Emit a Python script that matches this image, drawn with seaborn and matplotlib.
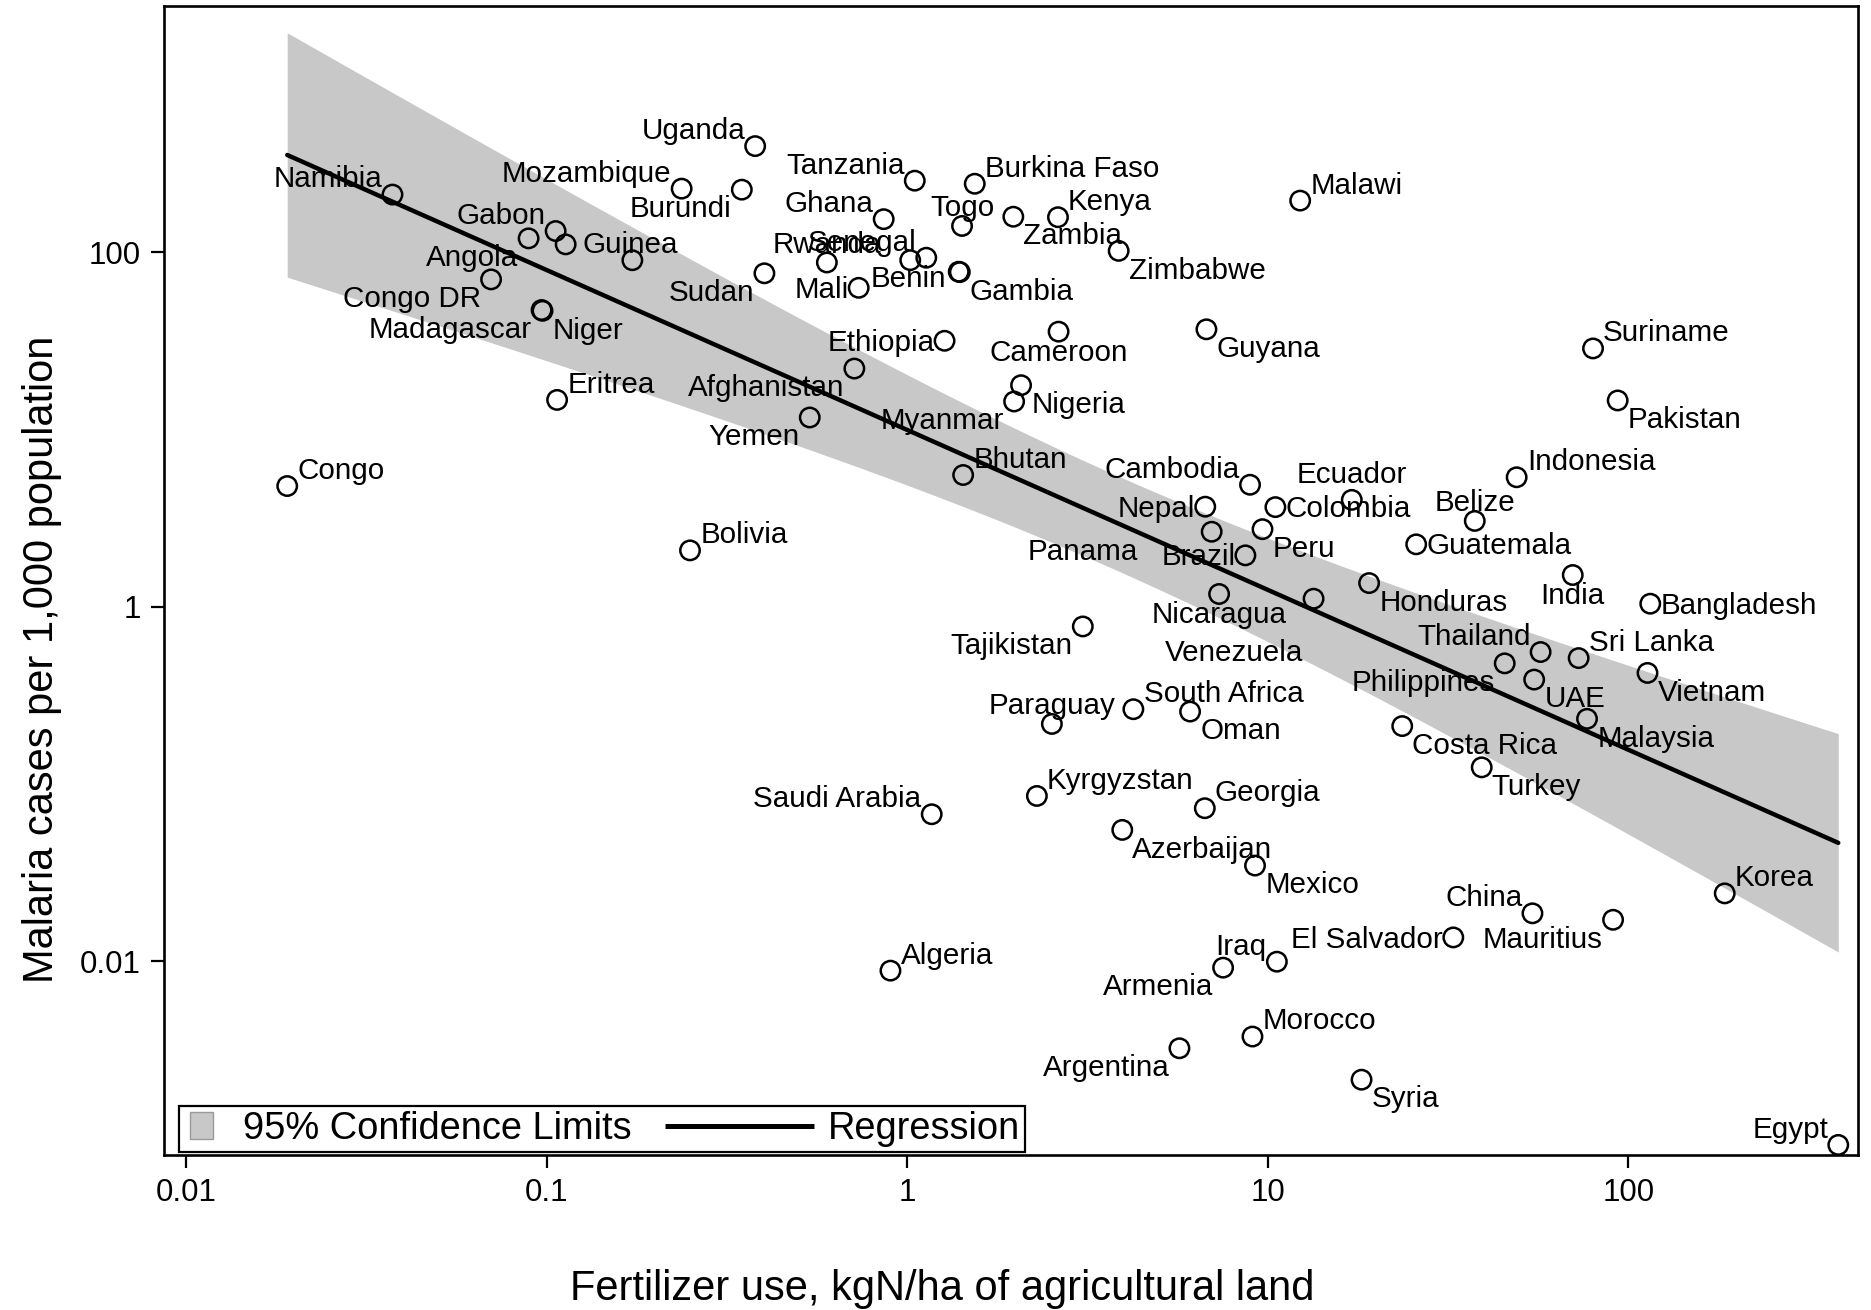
import numpy as np
import pandas as pd
import matplotlib
matplotlib.use("Agg")
import matplotlib.pyplot as plt
import seaborn as sns
from matplotlib.lines import Line2D
from matplotlib.patches import Patch, Rectangle
from matplotlib.legend_handler import HandlerPatch, HandlerLine2D
from matplotlib.ticker import FixedLocator, FixedFormatter, NullLocator

# ---------------- data ----------------
countries = ["Namibia", "Gabon", "Angola", "Guinea", "", "Congo DR", "Madagascar", "Niger",
             "Eritrea", "Congo", "Bolivia", "Uganda", "Mozambique", "Burundi", "Tanzania",
             "Burkina Faso", "Ghana", "Togo", "Kenya", "Zambia", "Zimbabwe", "Malawi", "Rwanda",
             "", "Senegal", "Sudan", "Mali", "Benin", "Gambia", "Ethiopia", "Afghanistan", "Yemen",
             "Cameroon", "Nigeria", "Myanmar", "Guyana", "Bhutan", "Cambodia", "Ecuador",
             "Colombia", "Nepal", "Panama", "Peru", "Brazil", "Nicaragua", "Venezuela",
             "Honduras", "Guatemala", "Belize", "Indonesia", "India", "Bangladesh", "Tajikistan",
             "Thailand", "Philippines", "Sri Lanka", "UAE", "Vietnam", "Malaysia", "Suriname",
             "Pakistan", "Paraguay", "South Africa", "Oman", "Costa Rica", "Turkey",
             "Saudi Arabia", "Kyrgyzstan", "Georgia", "Azerbaijan", "Mexico", "Korea", "China",
             "Mauritius", "El Salvador", "Iraq", "Armenia", "Algeria", "Morocco", "Argentina",
             "Syria", "Egypt"]

fertilizer = [0.0374, 0.106, 0.0892, 0.113, 0.173, 0.0702, 0.0969, 0.0975, 0.107, 0.0191,
              0.250, 0.379, 0.237, 0.348, 1.05, 1.54, 0.861, 1.42, 2.62, 1.97, 3.86, 12.3,
              0.599, 1.02, 1.13, 0.402, 0.734, 1.39, 1.40, 1.27, 0.714, 0.537, 2.63, 2.07,
              1.98, 6.76, 1.43, 8.93, 17.1, 10.5, 6.71, 6.99, 9.67, 8.67, 7.33, 13.4, 19.1,
              25.8, 37.5, 49.0, 70.1, 115, 3.07, 57.1, 45.4, 72.8, 54.8, 113, 76.8, 79.8,
              93.4, 2.52, 4.24, 6.09, 23.6, 39.2, 1.17, 2.29, 6.69, 3.95, 9.22, 185, 54.2,
              90.7, 32.7, 10.6, 7.52, 0.899, 9.07, 5.69, 18.2, 382]

malaria = [212, 132, 120, 111, 90.3, 70.4, 47.3, 46.8, 14.7, 4.80, 2.08, 398, 229, 226, 254,
           244, 154, 141, 158, 159, 102, 196, 87.7, 90.4, 93.3, 76.2, 63.1, 77.8, 77.4, 31.7,
           22.1, 11.7, 35.7, 17.8, 14.4, 36.8, 5.54, 4.88, 4.01, 3.65, 3.67, 2.65, 2.74, 1.95,
           1.18, 1.11, 1.36, 2.25, 3.05, 5.38, 1.51, 1.04, 0.774, 0.555, 0.479, 0.513, 0.388,
           0.423, 0.233, 28.7, 14.6, 0.218, 0.264, 0.256, 0.212, 0.124, 0.0674, 0.0855,
           0.0729, 0.0550, 0.0346, 0.0241, 0.0186, 0.0171, 0.0136, 0.00992, 0.00918, 0.00883,
           0.00375, 0.00322, 0.00214, 0.000917]

x_ticks = [0.01, 0.1, 1, 10, 100]
x_tick_labels = ["0.01", "0.1", "1", "10", "100"]
y_ticks = [0.01, 1, 100]
y_tick_labels = ["0.01", "1", "100"]

x_title = "Fertilizer use, kgN/ha of agricultural land"
y_title = "Malaria cases per 1,000 population"
legend_labels = ["95% Confidence Limits", "Regression"]

# ---------------- label placement (style) ----------------
OFFSETS = {
    "ul": (-7.3, 5.1, "right"), "ur": (7.3, 5.1, "left"),
    "ll": (-7.3, -20.0, "right"), "lr": (7.3, -20.0, "left"),
    "l": (-7.3, -7.3, "right"), "r": (7.3, -7.3, "left"),
    "uc": (0.0, 7.0, "center"), "lc": (0.0, -21.0, "center"),
}
PLACE = {
    "Namibia": "ul", "Gabon": "ul", "Angola": "ll", "Guinea": (12.4, -6.0, "left"),
    "Congo DR": "ll", "Madagascar": "ll", "Niger": "lr", "Eritrea": "ur", "Congo": "ur",
    "Bolivia": "ur", "Uganda": "ul", "Mozambique": "ul", "Burundi": "ll", "Tanzania": "ul",
    "Burkina Faso": "ur", "Ghana": "ul", "Togo": "uc", "Kenya": "ur", "Zambia": "lr",
    "Zimbabwe": "lr", "Malawi": "ur", "Rwanda": "uc", "Senegal": "ul", "Sudan": "ll",
    "Mali": "l", "Benin": (-9.0, -11.0, "right"), "Gambia": "lr", "Ethiopia": "l",
    "Afghanistan": "ll", "Yemen": "ll", "Cameroon": "lc", "Nigeria": "lr", "Myanmar": "ll",
    "Guyana": "lr", "Bhutan": "ur", "Cambodia": "ul", "Ecuador": (0.0, 12.5, "center"),
    "Colombia": "r", "Nepal": "l", "Panama": (-53.3, -20.5, "right"), "Peru": "lr",
    "Brazil": "l", "Nicaragua": "lc", "Venezuela": (-7.6, -44.8, "right"), "Honduras": "lr",
    "Guatemala": "r", "Belize": "uc", "Indonesia": "ur", "India": "lc", "Bangladesh": "r",
    "Tajikistan": "ll", "Thailand": "ul", "Philippines": "ll", "Sri Lanka": "ur",
    "UAE": "lr", "Vietnam": "lr", "Malaysia": "lr", "Suriname": "ur", "Pakistan": "lr",
    "Paraguay": "uc", "South Africa": "ur", "Oman": "lr", "Costa Rica": "lr", "Turkey": "lr",
    "Saudi Arabia": "ul", "Kyrgyzstan": "ur", "Georgia": "ur", "Azerbaijan": "lr",
    "Mexico": "lr", "Korea": "ur", "China": "ul", "Mauritius": "ll", "El Salvador": "l",
    "Iraq": "ul", "Armenia": "ll", "Algeria": "ur", "Morocco": "ur", "Argentina": "ll",
    "Syria": "lr", "Egypt": "ul",
}

BAND = "#c8c8c8"

sns.set_style("ticks")
plt.rcParams["font.family"] = ["Liberation Sans", "DejaVu Sans"]
plt.rcParams["text.color"] = "black"
plt.rcParams["axes.labelcolor"] = "black"
plt.rcParams["xtick.color"] = "black"
plt.rcParams["ytick.color"] = "black"
plt.rcParams["xtick.labelcolor"] = "black"
plt.rcParams["ytick.labelcolor"] = "black"

df = pd.DataFrame({"country": countries, "fert": fertilizer, "mal": malaria})

fig = plt.figure(figsize=(18.71, 13.10), dpi=100)
ax = fig.add_axes([0.0874, 0.1183, 0.9056, 0.8771])
ax.set_xscale("log")
ax.set_yscale("log")

# ---- OLS regression in log-log space with 95% confidence band ----
lx = np.log10(df["fert"].to_numpy())
ly = np.log10(df["mal"].to_numpy())
n = len(lx)
b, a = np.polyfit(lx, ly, 1)
res = ly - (a + b * lx)
s = np.sqrt(np.sum(res ** 2) / (n - 2))
xbar = lx.mean()
sxx = np.sum((lx - xbar) ** 2)
xs = np.linspace(lx.min(), lx.max(), 300)
yh = a + b * xs
tq = 1.989
half = tq * s * np.sqrt(1.0 / n + (xs - xbar) ** 2 / sxx)

ax.fill_between(10 ** xs, 10 ** (yh - half), 10 ** (yh + half), color=BAND, linewidth=0, zorder=1)
fit = pd.DataFrame({"x": 10 ** xs, "y": 10 ** yh})
sns.lineplot(data=fit, x="x", y="y", ax=ax, color="black", linewidth=3.2, zorder=3,
             estimator=None, sort=False, legend=False)

sns.scatterplot(data=df, x="fert", y="mal", ax=ax, s=195, marker="o", color="black",
                linewidth=1.8, zorder=4, legend=False)
coll = ax.collections[-1]
coll.set_facecolor("none")
coll.set_edgecolor("black")
coll.set_linewidth(1.8)

for name, xv, yv in zip(df["country"], df["fert"], df["mal"]):
    if not name:
        continue
    pl = PLACE.get(name, "ur")
    dx, dy, ha = OFFSETS[pl] if isinstance(pl, str) else pl
    ax.annotate(name, xy=(xv, yv), xytext=(dx, dy), textcoords="offset points",
                ha=ha, va="baseline", fontsize=21.3, color="black", zorder=5)

ax.set_xlim(0.00867, 433)
ax.set_ylim(0.000804, 2458)

ax.xaxis.set_major_locator(FixedLocator(x_ticks))
ax.xaxis.set_major_formatter(FixedFormatter(x_tick_labels))
ax.yaxis.set_major_locator(FixedLocator(y_ticks))
ax.yaxis.set_major_formatter(FixedFormatter(y_tick_labels))
ax.xaxis.set_minor_locator(NullLocator())
ax.yaxis.set_minor_locator(NullLocator())
ax.tick_params(axis="both", which="major", length=9.4, width=1.6, direction="out",
               labelsize=22.5, pad=7, colors="black", labelcolor="black")

for sp in ax.spines.values():
    sp.set_visible(True)
    sp.set_color("black")
    sp.set_linewidth(1.9)

ax.set_xlabel(x_title, fontsize=30, color="black")
ax.set_ylabel(y_title, fontsize=30, color="black")
ax.xaxis.set_label_coords(0.4595, -0.1163)
ax.xaxis.label.set_verticalalignment("center")
ax.yaxis.set_label_coords(-0.0718, 0.4315)
ax.yaxis.label.set_verticalalignment("center")
ax.yaxis.label.set_horizontalalignment("center")


class SquareHandler(HandlerPatch):
    def create_artists(self, legend, orig_handle, xdescent, ydescent, width, height,
                       fontsize, trans):
        sw = 0.60 * fontsize
        sh = 0.70 * fontsize
        x0 = -xdescent + 0.16 * fontsize
        y0 = -ydescent + (height - sh) / 2
        p = Rectangle((x0, y0), sw, sh, facecolor=orig_handle.get_facecolor(),
                      edgecolor=orig_handle.get_edgecolor(),
                      linewidth=orig_handle.get_linewidth(), transform=trans)
        return [p]


class LongLineHandler(HandlerLine2D):
    def create_artists(self, legend, orig_handle, xdescent, ydescent, width, height,
                       fontsize, trans):
        extra = 2.72 * fontsize
        y = -ydescent + height / 2
        ln = Line2D([-xdescent - extra, -xdescent + width], [y, y],
                    color=orig_handle.get_color(), linewidth=orig_handle.get_linewidth(),
                    solid_capstyle="butt", transform=trans)
        return [ln]


band_handle = Patch(facecolor=BAND, edgecolor="#9a9a9a", linewidth=1.0)
line_handle = Line2D([0, 1], [0, 0], color="black", linewidth=3.6)
leg = ax.legend([band_handle, line_handle], legend_labels, loc="lower left",
                bbox_to_anchor=(0.0092, 0.003), borderaxespad=0, ncol=2,
                fontsize=27.4, handlelength=1.19, handletextpad=0.38,
                columnspacing=3.58, borderpad=0.12, frameon=True, fancybox=False,
                framealpha=1, edgecolor="black",
                handler_map={Patch: SquareHandler(), Line2D: LongLineHandler()})
leg.get_frame().set_linewidth(1.6)
leg.set_zorder(6)
for t in leg.get_texts():
    t.set_color("black")

fig.savefig("out.png", dpi=100)
